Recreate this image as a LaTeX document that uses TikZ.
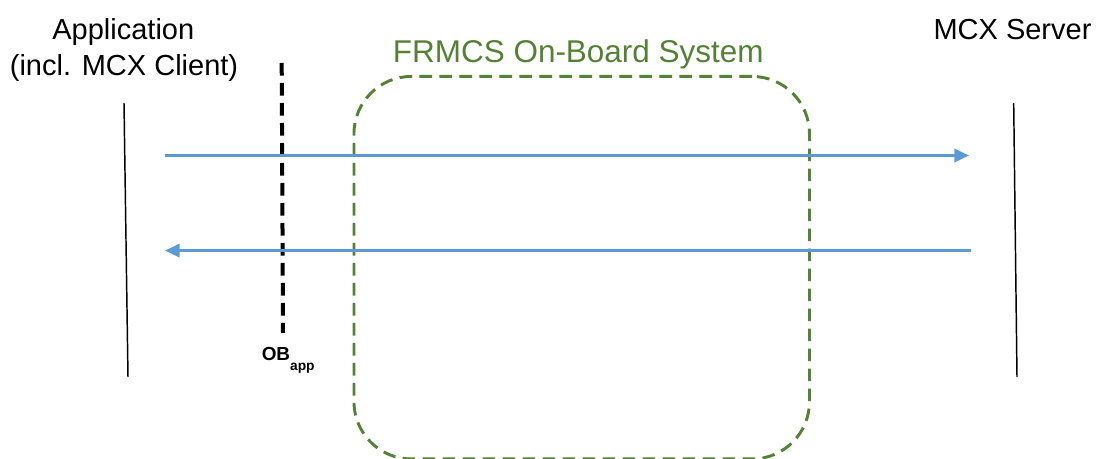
\documentclass[tikz,border=0pt]{standalone}
\usepackage{fontspec}
\setmainfont{Liberation Sans}
\usetikzlibrary{arrows.meta}
\definecolor{flowblue}{RGB}{91,155,213}
\definecolor{obgreen}{RGB}{84,130,53}
\begin{document}
\begin{tikzpicture}[x=0.75pt,y=-0.75pt,
  lifeline/.style={draw=black,line width=1.1pt},
  msg/.style={draw=flowblue,line width=1.9pt,-{Triangle[length=11pt,width=10pt]}},
  refpoint/.style={draw=black,line width=3pt,dash pattern=on 9.5pt off 5.5pt},
  sysbox/.style={draw=obgreen,line width=2.2pt,dash pattern=on 9.5pt off 5.5pt,rounded corners=43pt},
  lbl/.style={font=\fontsize{21.75}{26}\selectfont,anchor=base,inner sep=0pt}]
\useasboundingbox (0,0) rectangle (1104,459);

% FRMCS on-board system boundary
\node[sysbox,minimum width=455.5*0.75pt,minimum height=382.5*0.75pt,anchor=north west,inner sep=0pt] (obs) at (352.5,75) {};
\node[lbl,font=\fontsize{23.6}{28}\selectfont,text=obgreen] (obstitle) at (578.3,62.3) {FRMCS On-Board System};

% endpoint labels
\node[lbl] (applbl) at (123.3,39.3) {Application};
\node[lbl] (applbl2) at (124,75.3) {(incl. MCX Client)};
\node[lbl] (srvlbl) at (1012.5,39.3) {MCX Server};

% lifelines
\coordinate (apptop) at (124,103);
\coordinate (appbot) at (128,377);
\coordinate (srvtop) at (1013.7,103);
\coordinate (srvbot) at (1017,377);
\draw[lifeline] (apptop) -- (appbot);
\draw[lifeline] (srvtop) -- (srvbot);

% OB_app reference point
\coordinate (obtop) at (281.7,63);
\coordinate (obbot) at (283,333);
\draw[refpoint] (obtop) -- (obbot);
\node[anchor=base west,inner sep=0pt,font=\bfseries\fontsize{14.2}{17}\selectfont] (oblbl) at (261.5,361)
  {OB\raisebox{-7.2pt}{\fontsize{10.3}{12}\selectfont app}};

% messages
\coordinate (m1s) at (165,155.5);
\coordinate (m1e) at (969,155.5);
\coordinate (m2s) at (971,250.6);
\coordinate (m2e) at (165,250.6);
\draw[msg] (m1s) -- (m1e);
\draw[msg] (m2s) -- (m2e);
\end{tikzpicture}
\end{document}
